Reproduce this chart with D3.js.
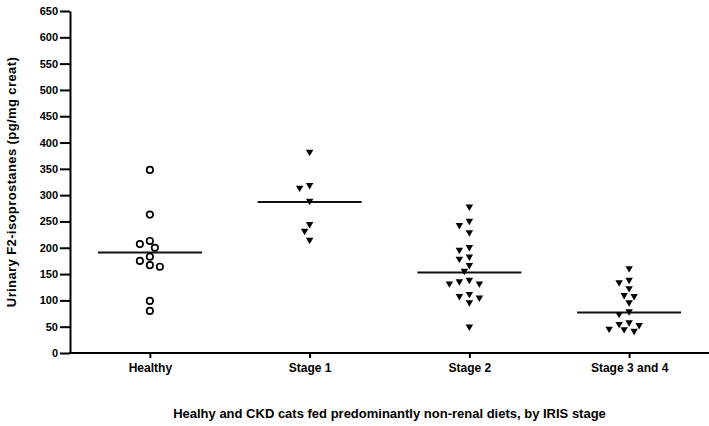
<!DOCTYPE html>
<meta charset="utf-8">
<style>

body {
  margin: 0;
  background: #fff;
}

text {
  font-family: "Liberation Sans", Arial, sans-serif;
  font-weight: bold;
  fill: #000;
}

.axis path,
.axis line {
  stroke: #000;
  stroke-width: 2;
}

</style>
<svg width="709" height="426"></svg>
<script src="https://d3js.org/d3.v7.min.js"></script>
<script>

var categories = ["Healthy", "Stage 1", "Stage 2", "Stage 3 and 4"];

var healthy = [348, 263, 213, 207, 200, 183, 175, 167, 164, 99, 80];
var stage1 = [382, 319, 314, 289, 245, 232, 215];
var stage2 = [278, 251, 243, 229, 201, 196, 183, 179, 167, 156, 139, 136, 132, 132, 112, 108, 105, 96, 50];
var stage34 = [161, 139, 134, 123, 110, 108, 96, 79, 74, 58, 55, 53, 46, 45, 42];

// horizontal line drawn through each group
var groupMeans = [191, 287, 153, 77];

var yTicks = d3.range(0, 651, 50);

var svg = d3.select("svg"),
    width = +svg.attr("width"),
    height = +svg.attr("height");

var margin = {left: 70, right: 0, top: 11, bottom: 73};

var x = d3.scalePoint()
    .domain(categories)
    .range([margin.left, width - margin.right])
    .padding(0.5);

var y = d3.scaleLinear()
    .domain([0, 650])
    .range([height - margin.bottom, margin.top]);

var groups = [healthy, stage1, stage2, stage34];

// simple greedy beeswarm so points with close values sit side by side
function swarm(values, cx) {
  var placed = [];
  var step = 5, minDist = 7;
  values.slice().sort(function(a, b) { return b - a; }).forEach(function(v) {
    var py = y(v);
    for (var k = 0; k < 40; k++) {
      var off = (k === 0) ? 0 : (k % 2 ? -1 : 1) * Math.ceil(k / 2) * step;
      var hit = placed.some(function(p) {
        var dx = p.x - (cx + off), dy = p.y - py;
        return dx * dx + dy * dy < minDist * minDist;
      });
      if (!hit) { placed.push({x: cx + off, y: py, v: v}); break; }
    }
  });
  return placed;
}

// axes
svg.append("g")
    .attr("class", "axis")
    .attr("transform", "translate(" + margin.left + ",0)")
    .call(d3.axisLeft(y).tickValues(yTicks).tickSize(10).tickPadding(2).tickSizeOuter(0))
    .selectAll("text")
    .attr("font-size", 11);

svg.append("g")
    .attr("class", "axis")
    .attr("transform", "translate(0," + y(0) + ")")
    .call(d3.axisBottom(x).tickSize(5).tickPadding(5).tickSizeOuter(0))
    .call(function(g) { g.select(".domain").attr("d", "M" + (margin.left - 1) + ",0H" + width); })
    .selectAll("text")
    .attr("font-size", 12);

// mean lines
svg.append("g")
  .selectAll("line")
  .data(groupMeans)
  .enter().append("line")
    .attr("x1", function(d, i) { return x(categories[i]) - 52; })
    .attr("x2", function(d, i) { return x(categories[i]) + 52; })
    .attr("y1", function(d) { return y(d); })
    .attr("y2", function(d) { return y(d); })
    .attr("stroke", "#111")
    .attr("stroke-width", 2);

// points
var tri = d3.symbol().type(d3.symbolTriangle).size(24);

groups.forEach(function(vals, i) {
  var pts = swarm(vals, x(categories[i]));
  var g = svg.append("g");
  if (i === 0) {
    g.selectAll("circle")
      .data(pts)
      .enter().append("circle")
        .attr("cx", function(d) { return d.x; })
        .attr("cy", function(d) { return d.y; })
        .attr("r", 3.2)
        .attr("fill", "#fff")
        .attr("stroke", "#000")
        .attr("stroke-width", 1.7);
  } else {
    g.selectAll("path")
      .data(pts)
      .enter().append("path")
        .attr("d", tri)
        .attr("transform", function(d) { return "translate(" + d.x + "," + d.y + ") rotate(180)"; })
        .attr("fill", "#000");
  }
});

// titles
svg.append("text")
    .attr("transform", "translate(16," + ((y(0) + y(650)) / 2) + ") rotate(-90)")
    .attr("text-anchor", "middle")
    .attr("font-size", 13)
    .attr("letter-spacing", 0.4)
    .text("Urinary F2-isoprostanes (pg/mg creat)");

svg.append("text")
    .attr("x", (margin.left + width) / 2)
    .attr("y", 418)
    .attr("text-anchor", "middle")
    .attr("font-size", 13)
    .text("Healhy and CKD cats fed predominantly non-renal diets, by IRIS stage");

</script>
